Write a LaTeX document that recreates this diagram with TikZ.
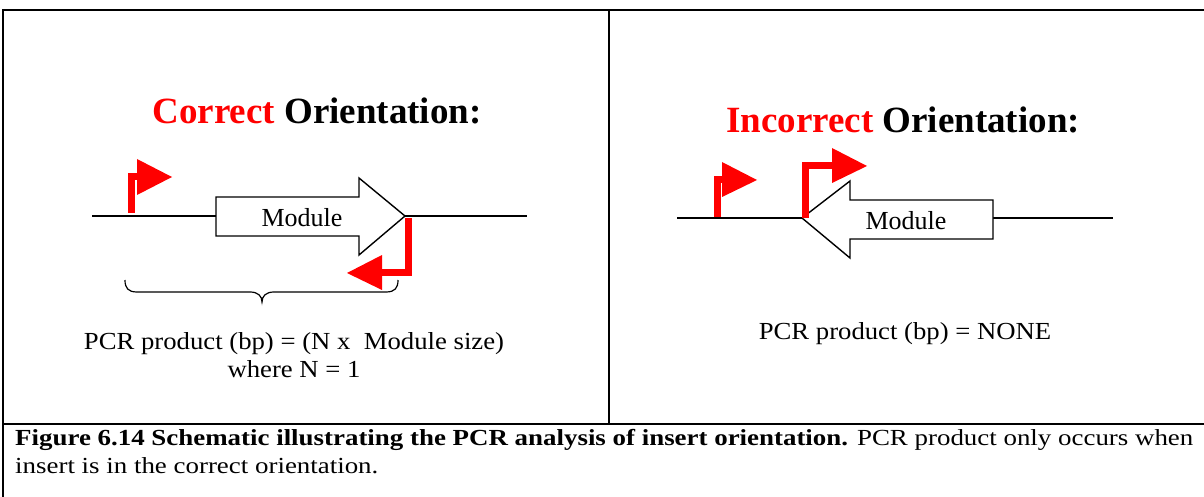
\documentclass[tikz,border=0pt]{standalone}
\usepackage{fontspec}
\setmainfont{Liberation Serif}
\definecolor{pred}{RGB}{255,0,0}
\newcommand{\wide}[2]{\scalebox{#1}[1]{#2}}
\tikzset{
  frame/.style={draw=black, line width=1.6pt},
  dna/.style={draw=black, line width=1.6pt},
  modarrow/.style={draw=black, fill=white, line width=1.4pt, line join=miter},
  primerbar/.style={draw=pred, line width=7pt, line join=miter, line cap=butt},
  primerhead/.style={fill=pred, draw=none},
  title/.style={font=\fontsize{37}{40}\selectfont\bfseries, anchor=base},
  modlabel/.style={font=\fontsize{26}{28}\selectfont},
  pcrtext/.style={font=\fontsize{24.5}{28}\selectfont, anchor=base},
  captext/.style={font=\fontsize{23}{26}\selectfont, anchor=base west, inner sep=0pt},
}
\begin{document}
\begin{tikzpicture}[x=1pt,y=-1pt]
\useasboundingbox (0,0) rectangle (1204,497);
% table frame
\draw[frame] (1210,10) -- (3,10) -- (3,500);
\draw[frame] (609,10) -- (609,424);
\draw[frame] (3,424) -- (1210,424);

% ---- Left panel: correct orientation
\node[title] (t1) at (317,124) {\textcolor{pred}{Correct} Orientation:};
\coordinate (l1a) at (92,216);
\coordinate (l1b) at (527,216);
\draw[dna] (l1a) -- (l1b);
\draw[modarrow] (216,197) -- (359,197) -- (359,178) -- (405,216) -- (359,255) -- (359,236) -- (216,236) -- cycle;
\node[modlabel] (m1) at (302,218) {Module};
% forward primer
\draw[primerbar] (131,213) -- (131,177) -- (138,177);
\fill[primerhead] (137,159) -- (172,177) -- (137,195) -- cycle;
% reverse primer
\draw[primerbar] (408,218) -- (408,272) -- (381,272);
\fill[primerhead] (382,255) -- (347,273) -- (382,290) -- cycle;
% brace
\draw[black, line width=1.2pt] (125,280) .. controls (125,288) and (128,292) .. (137,292) -- (250,292) .. controls (258,292) and (262,296) .. (262,302) .. controls (262,296) and (266,292) .. (274,292) -- (386,292) .. controls (395,292) and (398,288) .. (398,280);
\node[pcrtext] (p1) at (294,349) {\wide{1.09}{PCR product (bp) = (N x\ \ Module size)}};
\node[pcrtext] (p2) at (294,377) {\wide{1.09}{where N = 1}};

% ---- Right panel: incorrect orientation
\node[title] (t2) at (903,133) {\textcolor{pred}{Incorrect} Orientation:};
\coordinate (l2a) at (677,218);
\coordinate (l2b) at (1113,218);
\draw[dna] (l2a) -- (l2b);
\draw[modarrow] (993,200) -- (850,200) -- (850,181) -- (802,218) -- (850,258) -- (850,239) -- (993,239) -- cycle;
\node[modlabel] (m2) at (906,221) {Module};
% small primer
\draw[primerbar] (717,217) -- (717,180) -- (723,180);
\fill[primerhead] (722,162) -- (757,180) -- (722,197) -- cycle;
% primer at tip
\draw[primerbar] (805,218) -- (805,166) -- (833,166);
\fill[primerhead] (832,148) -- (867,166) -- (832,183) -- cycle;
\node[pcrtext] (p3) at (905,339) {\wide{1.09}{PCR product (bp) = NONE}};

% ---- caption
\node[captext] (c1) at (15,445) {\wide{1.17}{\textbf{Figure 6.14 Schematic illustrating the PCR analysis of insert orientation.} PCR product only occurs when}};
\node[captext] (c2) at (15,473) {\wide{1.17}{insert is in the correct orientation.}};
\end{tikzpicture}
\end{document}
